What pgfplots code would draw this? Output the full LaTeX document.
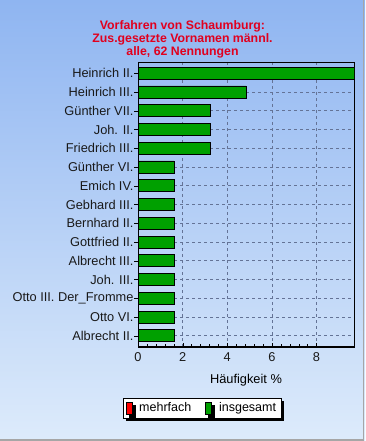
\documentclass[border=0pt]{standalone}
\usepackage{pgfplots}
\pgfplotsset{compat=1.18}
\usepackage{fontspec}
\setmainfont{Liberation Sans}
\usetikzlibrary{shadows}
\definecolor{bgtop}{RGB}{143,181,241}
\definecolor{bgbot}{RGB}{221,235,251}
\definecolor{bargreen}{RGB}{0,160,0}
\definecolor{titlered}{RGB}{225,0,30}
\definecolor{gridc}{RGB}{100,115,150}
\pgfplotsset{boxlegend/.style={legend image code/.code={\draw[##1] (0pt,-6pt) rectangle (6pt,6pt);}}}
\begin{document}
\begin{tikzpicture}[x=1pt,y=1pt]
\useasboundingbox (0,0) rectangle (365,441);
\shade[top color=bgtop,bottom color=bgbot] (0,0) rectangle (365,441);
\draw[gray!70, line width=1.5pt] (363.5,441) -- (363.5,1) -- (0,1);
\node[align=center, font=\fontsize{12.3}{12.7}\selectfont\bfseries, text=titlered] at (182.5,401.5) {Vorfahren von Schaumburg:\\Zus.gesetzte Vornamen männl.\\alle, 62 Nennungen};
\begin{axis}[
  at={(138pt,94pt)}, anchor=south west,
  scale only axis, width=216pt, height=285pt,
  xmin=0, xmax=9.68,
  ymin=-0.6, ymax=14.6, y dir=reverse,
  ytick={0,...,14},
  yticklabels={Heinrich II.,Heinrich III.,Günther VII.,Joh. II.,Friedrich III.,Günther VI.,Emich IV.,Gebhard III.,Bernhard II.,Gottfried II.,Albrecht III.,Joh. III.,Otto III. Der\_Fromme,Otto VI.,Albrecht II.},
  xtick={0,2,4,6,8}, minor x tick num=4,
  xtick pos=bottom, ytick pos=left,
  tick align=inside,
  major tick length=4pt, minor tick length=3pt,
  y tick style={xshift=-4pt, black},
  x tick style={black},
  grid=major,
  major grid style={dashed, gridc, line width=0.6pt},
  axis line style={black, line width=0.8pt},
  tick label style={font=\fontsize{12.8}{14}\selectfont, text=black!90},
  /pgf/number format/assume math mode=true,
  yticklabel style={xshift=-1pt},
  xticklabel style={yshift=-2pt},
  xlabel={Häufigkeit \%},
  xlabel style={font=\fontsize{12.8}{14}\selectfont, yshift=-6pt},
  legend columns=2,
  legend style={at={(0.296,-0.214)}, anchor=center, draw=black, fill=white,
    font=\fontsize{12.5}{14}\selectfont, inner xsep=3pt, inner ysep=2.5pt,
    drop shadow={shadow xshift=3pt, shadow yshift=-3pt, opacity=1, fill=black},
    /tikz/every odd column/.append style={column sep=5pt},
    /tikz/every even column/.append style={column sep=12pt}},
]
\addlegendimage{fill=red, draw=black, boxlegend}
\addlegendentry{mehrfach}
\addplot[xbar, bar width=12pt, bar shift=0pt, fill=bargreen, draw=black, line width=0.8pt, boxlegend]
  coordinates {
  (9.68,0) (4.84,1) (3.23,2) (3.23,3) (3.23,4)
  (1.61,5) (1.61,6) (1.61,7) (1.61,8) (1.61,9)
  (1.61,10) (1.61,11) (1.61,12) (1.61,13) (1.61,14)
  };
\addlegendentry{insgesamt\hspace{12pt}}
\draw[black, line width=2pt] (axis description cs:0,1) -- (axis description cs:0,0) -- (axis description cs:1,0);
\end{axis}
\end{tikzpicture}
\end{document}
